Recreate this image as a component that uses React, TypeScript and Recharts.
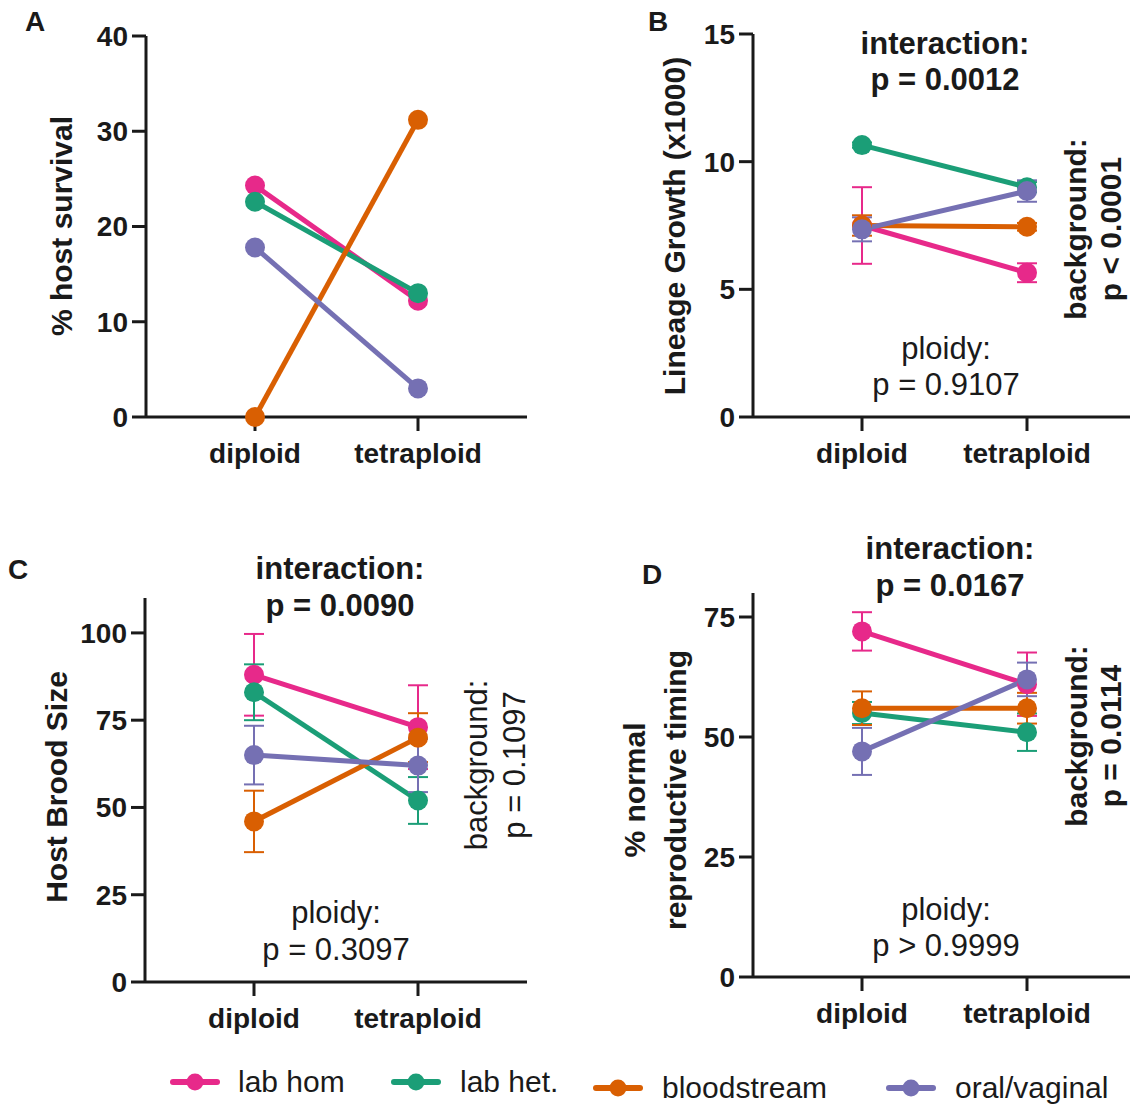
import React from "react";
import { LineChart, Line, XAxis, YAxis, ErrorBar } from "recharts";

// categories and series
const ploidy = ["diploid", "tetraploid"];
const seriesNames = ["lab hom", "lab het.", "bloodstream", "oral/vaginal"];
const seriesColors = ["#E7298A", "#1B9E77", "#D95F02", "#7570B3"];

// A: % host survival
const survivalLabHom = [24.3, 12.2];
const survivalLabHet = [22.6, 13.0];
const survivalBlood = [0, 31.2];
const survivalOral = [17.8, 3.0];

// B: lineage growth (x1000)
const growthLabHom = [7.5, 5.65];
const growthLabHet = [10.65, 9.0];
const growthBlood = [7.5, 7.45];
const growthOral = [7.35, 8.85];
const growthLabHomErr = [1.5, 0.37];
const growthLabHetErr = [0.1, 0.2];
const growthBloodErr = [0.4, 0.15];
const growthOralErr = [0.47, 0.42];

// C: host brood size
const broodLabHom = [88, 73];
const broodLabHet = [83, 52];
const broodBlood = [46, 70];
const broodOral = [65, 62];
const broodLabHomErr = [11.7, 12];
const broodLabHetErr = [8, 6.7];
const broodBloodErr = [8.8, 7];
const broodOralErr = [8.4, 7.6];

// D: % normal reproductive timing
const timingLabHom = [72, 61];
const timingLabHet = [55, 51];
const timingBlood = [56, 56];
const timingOral = [47, 62];
const timingLabHomErr = [4, 6.6];
const timingLabHetErr = [2.3, 3.9];
const timingBloodErr = [3.5, 3.2];
const timingOralErr = [4.9, 3.5];

const ink = "#1a1a1a";
const font = '"Liberation Sans", Arial, sans-serif';

function buildRows(values: number[][], errors?: number[][]) {
  return ploidy.map((p, i) => {
    const row: Record<string, any> = { ploidy: p };
    values.forEach((v, s) => {
      row["s" + s] = v[i];
      if (errors) row["e" + s] = errors[s][i];
    });
    return row;
  });
}

type PanelProps = {
  left: number;
  top: number;
  width: number;
  height: number;
  margin: { top: number; right: number; bottom: number; left: number };
  padRight: number;
  domain: [number, number];
  ticks: number[];
  values: number[][];
  errors?: number[][];
};

const Panel = ({ left, top, width, height, margin, padRight, domain, ticks, values, errors }: PanelProps) => {
  const rows = buildRows(values, errors);
  return (
    <div style={{ position: "absolute", left, top }}>
      <LineChart width={width} height={height} data={rows} margin={margin}>
        <XAxis
          dataKey="ploidy"
          interval={0}
          height={50}
          padding={{ left: 109, right: padRight }}
          tick={{ fontSize: 28, fontWeight: 700, fill: ink }}
          tickSize={14}
          tickMargin={12}
          axisLine={{ stroke: ink, strokeWidth: 3 }}
          tickLine={{ stroke: ink, strokeWidth: 3 }}
        />
        <YAxis
          type="number"
          width={60}
          domain={domain}
          ticks={ticks}
          interval={0}
          tick={{ fontSize: 28, fontWeight: 700, fill: ink }}
          tickSize={14}
          tickMargin={4}
          axisLine={{ stroke: ink, strokeWidth: 3 }}
          tickLine={{ stroke: ink, strokeWidth: 3 }}
        />
        {values.map((_, s) => (
          <Line
            key={s}
            dataKey={"s" + s}
            stroke={seriesColors[s]}
            strokeWidth={5}
            dot={{ r: 10, fill: seriesColors[s], stroke: seriesColors[s], strokeWidth: 0 }}
            activeDot={false}
            isAnimationActive={false}
          >
            {errors && (
              <ErrorBar
                dataKey={"e" + s}
                direction="y"
                width={10}
                stroke={seriesColors[s]}
                strokeWidth={2}
                isAnimationActive={false}
              />
            )}
          </Line>
        ))}
      </LineChart>
    </div>
  );
};

const Txt = ({
  x,
  y,
  children,
  size = 30,
  bold = true,
  rotate = false,
  lh = 1,
}: {
  x: number;
  y: number;
  children: React.ReactNode;
  size?: number;
  bold?: boolean;
  rotate?: boolean;
  lh?: number;
}) => (
  <div
    style={{
      position: "absolute",
      left: x,
      top: y,
      transform: `translate(-50%, -50%)${rotate ? " rotate(-90deg)" : ""}`,
      fontSize: size,
      fontWeight: bold ? 700 : 400,
      lineHeight: lh,
      whiteSpace: "pre",
      textAlign: "center",
      color: ink,
      fontFamily: font,
    }}
  >
    {children}
  </div>
);

const Legend = () => {
  const items = [
    { cx: 195, cy: 1082, tx: 238 },
    { cx: 416, cy: 1082, tx: 460 },
    { cx: 618, cy: 1088, tx: 662 },
    { cx: 911, cy: 1088, tx: 955 },
  ];
  return (
    <>
      {items.map((it, i) => (
        <React.Fragment key={i}>
          <svg
            width={50}
            height={24}
            style={{ position: "absolute", left: it.cx - 25, top: it.cy - 12 }}
          >
            <line x1={3} y1={12} x2={47} y2={12} stroke={seriesColors[i]} strokeWidth={6} strokeLinecap="round" />
            <circle cx={25} cy={12} r={8.5} fill={seriesColors[i]} />
          </svg>
          <div
            style={{
              position: "absolute",
              left: it.tx,
              top: it.cy - 17,
              fontSize: 30,
              lineHeight: "34px",
              whiteSpace: "nowrap",
              color: ink,
              fontFamily: font,
            }}
          >
            {seriesNames[i]}
          </div>
        </React.Fragment>
      ))}
    </>
  );
};

export default function App() {
  return (
    <div
      style={{
        position: "absolute",
        left: 0,
        top: 0,
        width: 1130,
        height: 1105,
        background: "#fff",
        fontFamily: font,
        overflow: "hidden",
      }}
    >
      <Panel
        left={0}
        top={0}
        width={560}
        height={480}
        margin={{ top: 36, right: 33, bottom: 13, left: 86 }}
        padRight={109}
        domain={[0, 40]}
        ticks={[0, 10, 20, 30, 40]}
        values={[survivalLabHom, survivalLabHet, survivalBlood, survivalOral]}
      />
      <Panel
        left={560}
        top={0}
        width={572}
        height={480}
        margin={{ top: 34, right: 2, bottom: 13, left: 133 }}
        padRight={103}
        domain={[0, 15]}
        ticks={[0, 5, 10, 15]}
        values={[growthLabHom, growthLabHet, growthBlood, growthOral]}
        errors={[growthLabHomErr, growthLabHetErr, growthBloodErr, growthOralErr]}
      />
      <Panel
        left={0}
        top={540}
        width={560}
        height={500}
        margin={{ top: 58, right: 33, bottom: 8, left: 85 }}
        padRight={109}
        domain={[0, 110]}
        ticks={[0, 25, 50, 75, 100]}
        values={[broodLabHom, broodLabHet, broodBlood, broodOral]}
        errors={[broodLabHomErr, broodLabHetErr, broodBloodErr, broodOralErr]}
      />
      <Panel
        left={560}
        top={530}
        width={572}
        height={510}
        margin={{ top: 63, right: 2, bottom: 13, left: 133 }}
        padRight={103}
        domain={[0, 80]}
        ticks={[0, 25, 50, 75]}
        values={[timingLabHom, timingLabHet, timingBlood, timingOral]}
        errors={[timingLabHomErr, timingLabHetErr, timingBloodErr, timingOralErr]}
      />

      {/* panel letters */}
      <Txt x={35} y={22} size={28}>A</Txt>
      <Txt x={658} y={22} size={28}>B</Txt>
      <Txt x={18} y={570} size={28}>C</Txt>
      <Txt x={652} y={575} size={28}>D</Txt>

      {/* axis titles */}
      <Txt x={62} y={226} rotate>% host survival</Txt>
      <Txt x={675} y={226} rotate>Lineage Growth (x1000)</Txt>
      <Txt x={57} y={787} rotate>Host Brood Size</Txt>
      <Txt x={655} y={790} rotate lh={1.37}>{"% normal\nreproductive timing"}</Txt>

      {/* B stats */}
      <Txt x={945} y={43} size={31}>interaction:</Txt>
      <Txt x={945} y={79} size={31}>p = 0.0012</Txt>
      <Txt x={946} y={348} size={31} bold={false}>ploidy:</Txt>
      <Txt x={946} y={384} size={31} bold={false}>p = 0.9107</Txt>
      <Txt x={1076} y={229} size={30} rotate>background:</Txt>
      <Txt x={1111} y={229} size={30} rotate>p &lt; 0.0001</Txt>

      {/* C stats */}
      <Txt x={340} y={568} size={31}>interaction:</Txt>
      <Txt x={340} y={605} size={31}>p = 0.0090</Txt>
      <Txt x={336} y={912} size={31} bold={false}>ploidy:</Txt>
      <Txt x={336} y={949} size={31} bold={false}>p = 0.3097</Txt>
      <Txt x={476} y={765} size={31} bold={false} rotate>background:</Txt>
      <Txt x={514} y={765} size={31} bold={false} rotate>p = 0.1097</Txt>

      {/* D stats */}
      <Txt x={950} y={548} size={31}>interaction:</Txt>
      <Txt x={950} y={585} size={31}>p = 0.0167</Txt>
      <Txt x={946} y={909} size={31} bold={false}>ploidy:</Txt>
      <Txt x={946} y={945} size={31} bold={false}>p &gt; 0.9999</Txt>
      <Txt x={1077} y={736} size={30} rotate>background:</Txt>
      <Txt x={1111} y={736} size={30} rotate>p = 0.0114</Txt>

      <Legend />
    </div>
  );
}
